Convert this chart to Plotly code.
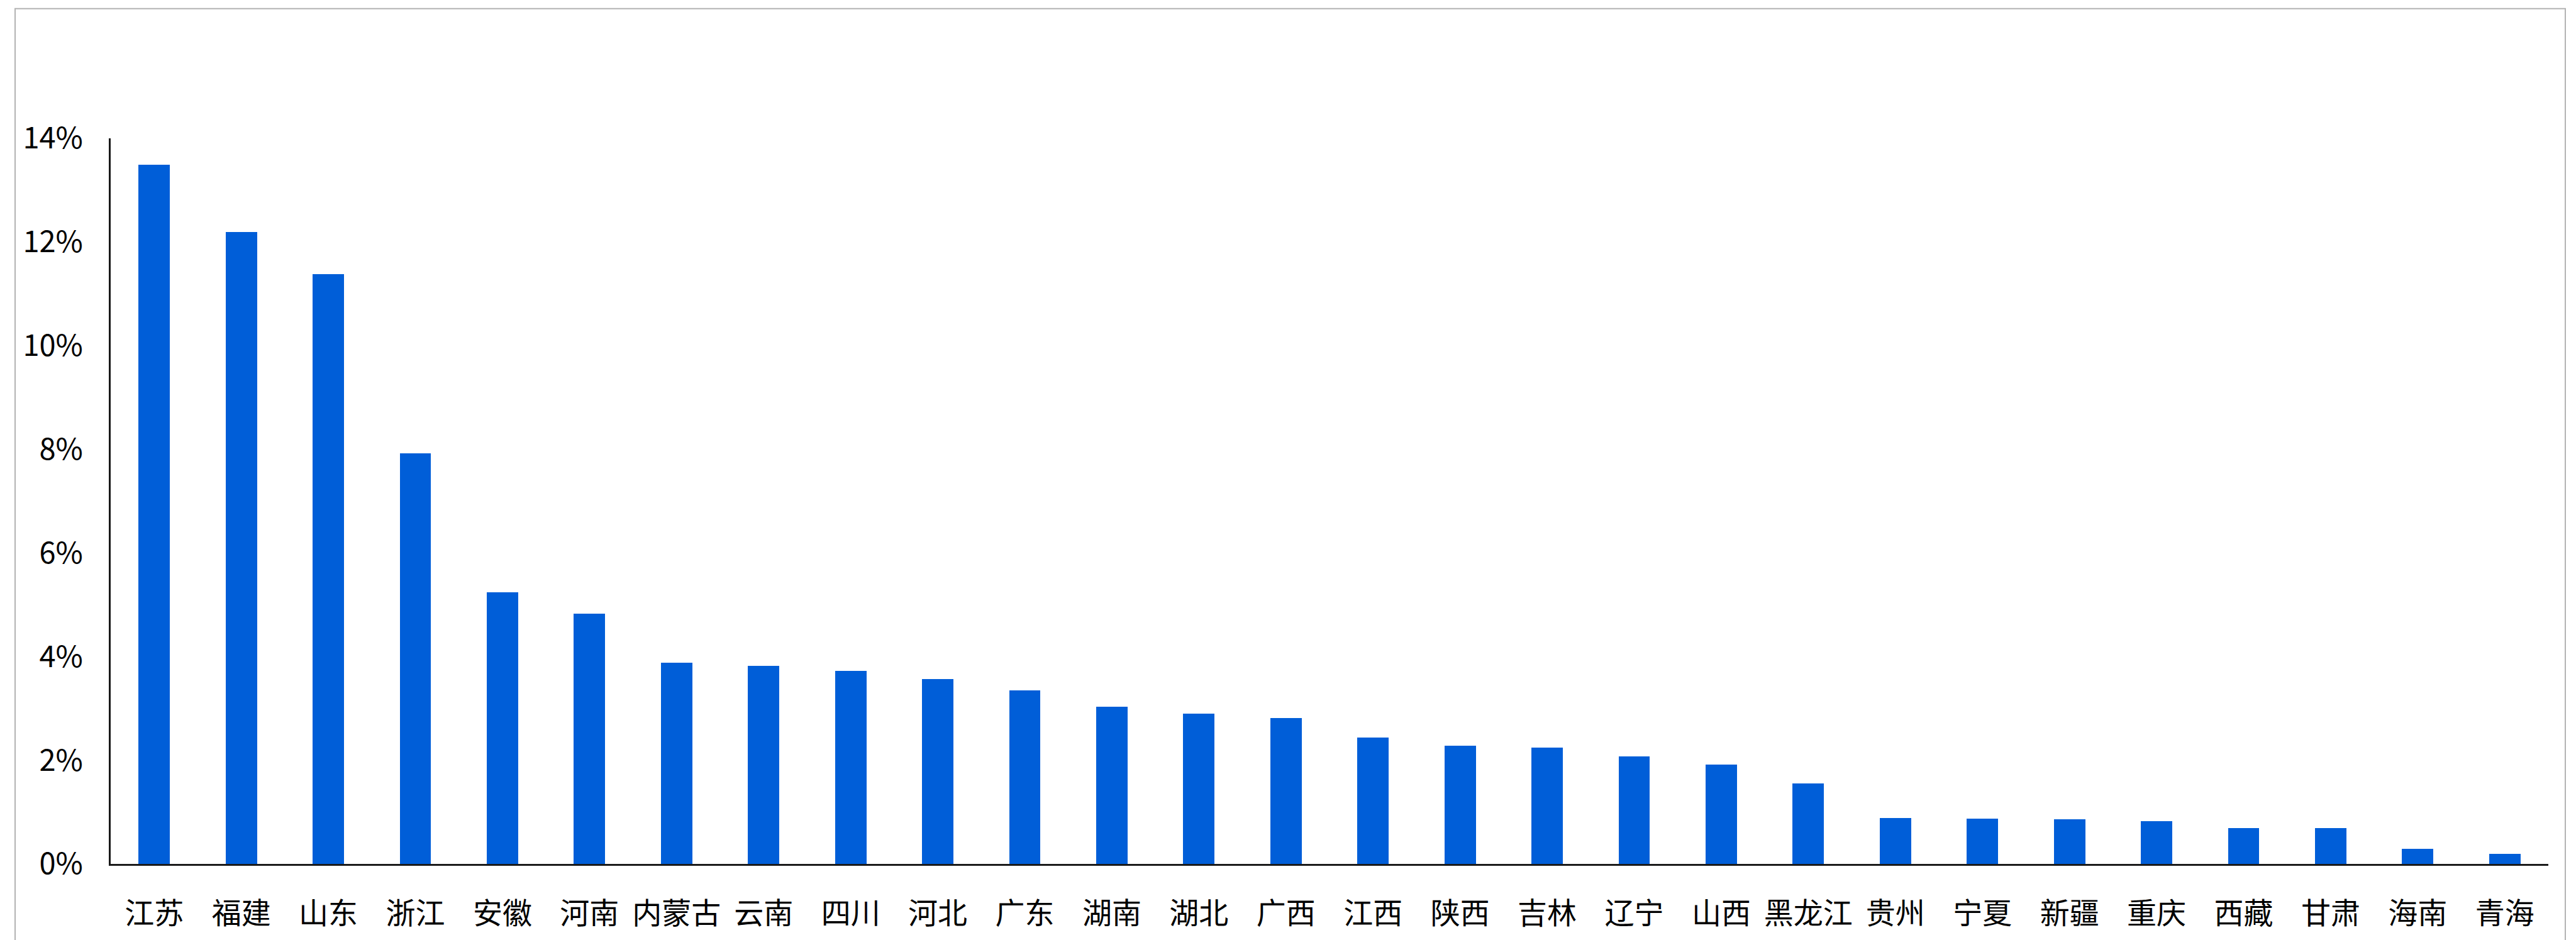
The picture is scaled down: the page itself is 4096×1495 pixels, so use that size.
import plotly.graph_objects as go

# Provincial shares (%)
provinces = ["江苏", "福建", "山东", "浙江", "安徽", "河南", "内蒙古", "云南", "四川", "河北",
             "广东", "湖南", "湖北", "广西", "江西", "陕西", "吉林", "辽宁", "山西", "黑龙江",
             "贵州", "宁夏", "新疆", "重庆", "西藏", "甘肃", "海南", "青海"]
shares = [13.49, 12.19, 11.38, 7.92, 5.24, 4.83, 3.88, 3.82, 3.72, 3.57,
          3.35, 3.03, 2.90, 2.81, 2.44, 2.28, 2.25, 2.08, 1.92, 1.55,
          0.89, 0.87, 0.86, 0.82, 0.69, 0.69, 0.29, 0.20]
y_ticks = [0, 2, 4, 6, 8, 10, 12, 14]
y_tick_labels = ["0%", "2%", "4%", "6%", "8%", "10%", "12%", "14%"]

W, H = 4096, 1495
L, R, T, B = 176, 44, 220, 117
FONT = "Noto Sans CJK SC, Noto Sans, sans-serif"

fig = go.Figure(
    go.Bar(
        x=provinces,
        y=shares,
        width=0.36,
        marker=dict(color="#005ed8", line=dict(width=0)),
        hoverinfo="skip",
    )
)

plot_w = W - L - R
plot_h = H - T - B


def px_to_paper_x(px):
    return (px - L) / plot_w


def px_to_paper_y(py):
    return (H - B - py) / plot_h


# outer chart frame (bottom edge runs off the page)
fig.add_shape(
    type="rect", xref="paper", yref="paper",
    x0=px_to_paper_x(24), x1=px_to_paper_x(4079),
    y0=px_to_paper_y(1540), y1=px_to_paper_y(13),
    line=dict(color="#b3b3b3", width=2), fillcolor="rgba(0,0,0,0)", layer="below",
)

fig.update_layout(
    width=W, height=H,
    margin=dict(l=L, r=R, t=T, b=B, pad=0),
    paper_bgcolor="white", plot_bgcolor="white",
    showlegend=False,
    bargap=0,
    font=dict(family=FONT, color="#000000"),
    xaxis=dict(
        type="category",
        range=[-0.5, len(provinces) - 0.5],
        showline=True, linecolor="#1a1a1a", linewidth=2.5,
        showgrid=False, zeroline=False, ticks="",
        tickfont=dict(size=47, family=FONT, color="#000000"),
        ticklabelstandoff=36,
    ),
    yaxis=dict(
        range=[0, 14],
        tickvals=y_ticks, ticktext=y_tick_labels,
        showline=True, linecolor="#1a1a1a", linewidth=2.5,
        showgrid=False, zeroline=False, ticks="",
        tickfont=dict(size=47, family=FONT, color="#000000"),
        ticklabelstandoff=32,
    ),
)

fig.write_html("out.html")
